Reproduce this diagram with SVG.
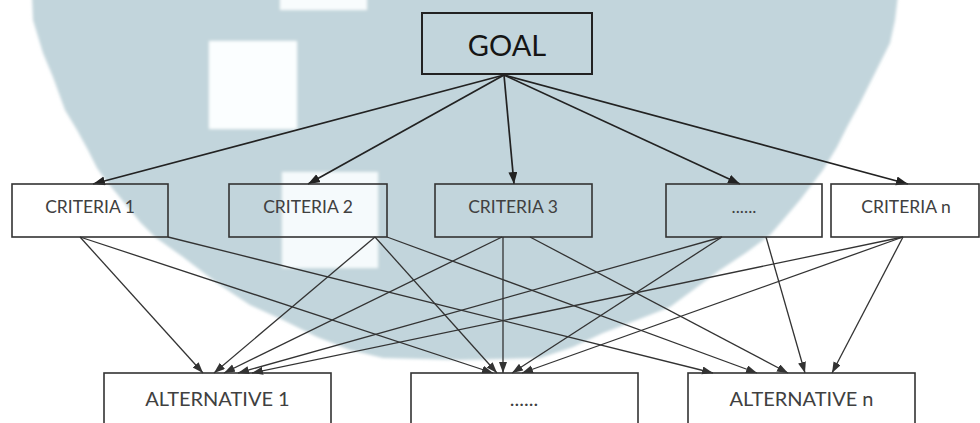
<svg xmlns="http://www.w3.org/2000/svg" width="980" height="423" viewBox="0 0 980 423">
  <style>
    .box { fill: none; stroke: #333; stroke-width: 1.6; }
    .goalbox { fill: none; stroke: #222; stroke-width: 2; }
    .lbl { font-family: Lato, "Liberation Sans", sans-serif; fill: #404040; text-anchor: middle; }
    .top { stroke: #222; stroke-width: 1.7; fill: none; marker-end: url(#headL); }
    .sub { stroke: #333; stroke-width: 1.3; fill: none; marker-end: url(#head); }
  </style>
  <defs>
    <marker id="headL" markerUnits="userSpaceOnUse" markerWidth="13" markerHeight="10" refX="12" refY="4.5" orient="auto">
      <path d="M0,0 L12,4.5 L0,9 Z" fill="#222"/>
    </marker>
    <marker id="head" markerUnits="userSpaceOnUse" markerWidth="12" markerHeight="9" refX="11" refY="4" orient="auto">
      <path d="M0,0 L11,4 L0,8 Z" fill="#333"/>
    </marker>
    <filter id="soft" x="-5%" y="-5%" width="110%" height="110%">
      <feGaussianBlur stdDeviation="1.5"/>
    </filter>
  </defs>

  <rect width="980" height="423" fill="#ffffff"/>

  <!-- background emblem -->
  <g id="emblem" filter="url(#soft)">
    <path fill="#c2d5dc" d="M32,-5 L898,-5 L895,20 L890,43 L880,63 L870,83 L860,103 L847,127 L837,147 L823,170 L800,200 L783,220 L770,235 L747,252 L720,270 L693,290 L670,307 L637,320 L603,333 L573,347 L540,358 L460,360 L383,358 L350,350 L317,337 L283,320 L250,305 L217,283 L183,257 L155,237 L140,222 L118,195 L107,182 L97,168 L88,150 L77,130 L65,110 L53,77 L43,53 L33,20 Z"/>
    <rect x="280" y="-5" width="87" height="15" fill="#f8fcfd"/>
    <rect x="209" y="41" width="88" height="88" fill="#fbfeff"/>
    <rect x="282" y="172" width="96" height="96" fill="#f5fafc"/>
  </g>

  <!-- connectors -->
  <g id="connectors">
    <line class="top" x1="504" y1="75" x2="93" y2="184"/>
    <line class="top" x1="504" y1="75" x2="308" y2="184"/>
    <line class="top" x1="504" y1="75" x2="514" y2="184"/>
    <line class="top" x1="504" y1="75" x2="740" y2="184"/>
    <line class="top" x1="504" y1="75" x2="908" y2="184"/>

    <line class="sub" x1="80" y1="237" x2="203" y2="373"/>
    <line class="sub" x1="80" y1="237" x2="493" y2="373"/>
    <line class="sub" x1="168" y1="237" x2="713" y2="373"/>

    <line class="sub" x1="375" y1="237" x2="214" y2="373"/>
    <line class="sub" x1="375" y1="237" x2="497" y2="373"/>
    <line class="sub" x1="387" y1="237" x2="757" y2="373"/>

    <line class="sub" x1="502" y1="237" x2="224" y2="373"/>
    <line class="sub" x1="503" y1="237" x2="503" y2="373"/>
    <line class="sub" x1="530" y1="237" x2="788" y2="373"/>

    <line class="sub" x1="722" y1="237" x2="238" y2="373"/>
    <line class="sub" x1="722" y1="237" x2="512" y2="373"/>
    <line class="sub" x1="766" y1="237" x2="805" y2="373"/>

    <line class="sub" x1="903" y1="237" x2="252" y2="373"/>
    <line class="sub" x1="903" y1="237" x2="522" y2="373"/>
    <line class="sub" x1="903" y1="237" x2="832" y2="373"/>
  </g>

  <g id="goal">
    <rect class="goalbox" x="422" y="13" width="170" height="61"/>
    <text class="lbl" x="507" y="56" font-size="29" style="fill:#151515">GOAL</text>
  </g>

  <g id="criteria-1">
    <rect class="box" x="12" y="184" width="156" height="53"/>
    <text class="lbl" x="90" y="213" font-size="17.5">CRITERIA 1</text>
  </g>
  <g id="criteria-2">
    <rect class="box" x="229" y="184" width="158" height="53"/>
    <text class="lbl" x="308" y="213" font-size="17.5">CRITERIA 2</text>
  </g>
  <g id="criteria-3">
    <rect class="box" x="435" y="184" width="157" height="53"/>
    <text class="lbl" x="513" y="213" font-size="17.5">CRITERIA 3</text>
  </g>
  <g id="criteria-more">
    <rect class="box" x="666" y="184" width="156" height="53"/>
    <text class="lbl" x="744" y="213" font-size="17.5">......</text>
  </g>
  <g id="criteria-n">
    <rect class="box" x="831" y="184" width="148" height="53"/>
    <text class="lbl" x="906" y="213" font-size="17.5">CRITERIA n</text>
  </g>

  <g id="alternative-1">
    <rect class="box" x="104" y="373" width="227" height="60"/>
    <text class="lbl" x="217.5" y="406" font-size="20">ALTERNATIVE 1</text>
  </g>
  <g id="alternative-more">
    <rect class="box" x="411" y="373" width="227" height="60"/>
    <text class="lbl" x="524" y="406" font-size="20">......</text>
  </g>
  <g id="alternative-n">
    <rect class="box" x="688" y="373" width="227" height="60"/>
    <text class="lbl" x="801.5" y="406" font-size="20">ALTERNATIVE n</text>
  </g>
</svg>
